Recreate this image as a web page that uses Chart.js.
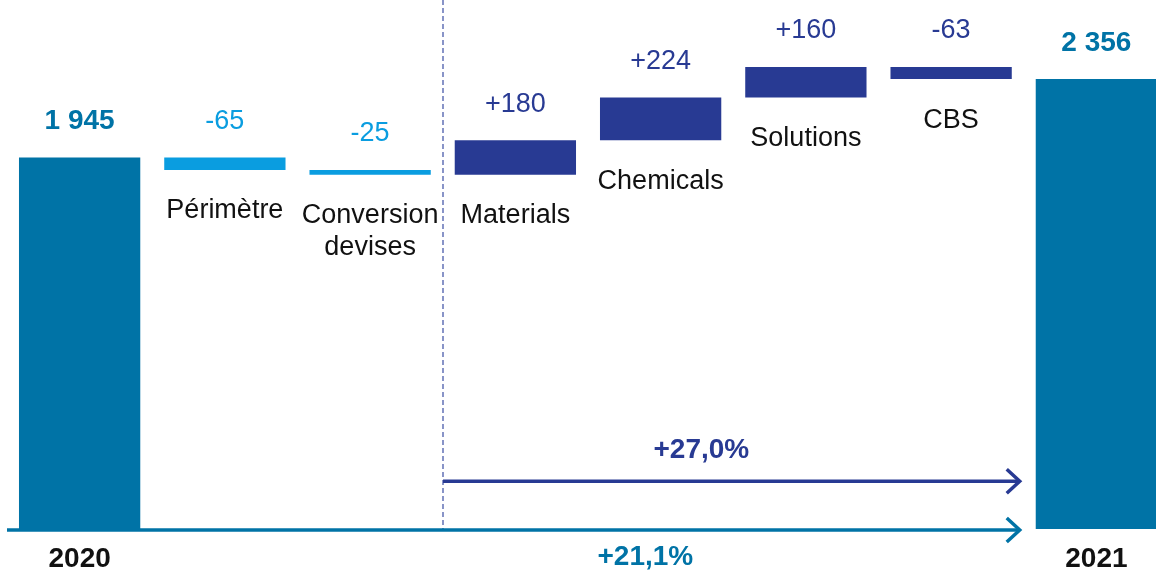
<!DOCTYPE html>
<html>
<head>
<meta charset="utf-8">
<script src="https://cdn.jsdelivr.net/npm/chart.js@4.4.1/dist/chart.umd.min.js"></script>
<style>
  html, body { margin: 0; padding: 0; background: #fff; overflow: hidden; }
  #wrap { width: 1170px; height: 573px; }
</style>
</head>
<body>
<div id="wrap"><canvas id="bridge" width="1170" height="573"></canvas></div>
<script>
// Waterfall data (EBITDA bridge 2020 -> 2021)
const categories = ['2020', 'Périmètre', 'Conversion\ndevises', 'Materials', 'Chemicals', 'Solutions', 'CBS', '2021'];
const values = [1945, -65, -25, 180, 224, 160, -63, 2356];
const valueLabels = ['1 945', '-65', '-25', '+180', '+224', '+160', '-63', '2 356'];
const kinds = ['total', 'scope', 'scope', 'organic', 'organic', 'organic', 'organic', 'total'];
const growthLabels = ['+27,0%', '+21,1%'];

const COLORS = { total: '#0073a6', scope: '#0a9de0', organic: '#283a93' };
const FONT = '"Liberation Sans", Arial, sans-serif';

// build floating bars [start, end]
function buildRanges() {
    let running = 0;
    return values.map((v, i) => {
        if (kinds[i] === 'total') {
            running = v;
            return [0, v];
        }
        const start = running;
        running += v;
        return [start, running];
    });
}

const bridgeLabels = {
    id: 'bridgeLabels',
    afterDatasetsDraw(chart) {
        const ctx = chart.ctx;
        const xs = chart.scales.x;
        const ys = chart.scales.y;
        const bars = chart.getDatasetMeta(0).data;
        const baseY = ys.getPixelForValue(0) + 1;

        ctx.save();
        ctx.textAlign = 'center';
        ctx.textBaseline = 'middle';

        bars.forEach((el, i) => {
            const top = Math.min(el.y, el.base);
            const bottom = Math.max(el.y, el.base);
            const isTotal = kinds[i] === 'total';

            // value above bar
            ctx.fillStyle = COLORS[kinds[i]];
            ctx.font = (isTotal ? 'bold 28px ' : '27px ') + FONT;
            ctx.fillText(valueLabels[i], el.x, top - 36);

            // category name
            ctx.fillStyle = '#111';
            if (isTotal) {
                ctx.font = 'bold 28px ' + FONT;
                ctx.fillText(categories[i], el.x, baseY + 29);
            } else {
                ctx.font = '27px ' + FONT;
                categories[i].split('\n').forEach((line, k) => {
                    ctx.fillText(line, el.x, bottom + 41 + k * 32);
                });
            }
        });

        // separator between scope effects and organic growth
        const splitX = Math.round((xs.getPixelForValue(2) + xs.getPixelForValue(3)) / 2);
        ctx.strokeStyle = '#3b4ea3';
        ctx.lineWidth = 1.2;
        ctx.setLineDash([5, 3]);
        ctx.beginPath();
        ctx.moveTo(splitX, chart.chartArea.top);
        ctx.lineTo(splitX, baseY);
        ctx.stroke();
        ctx.setLineDash([]);

        const last = bars[bars.length - 1];
        const tipX = last.x - last.width / 2 - 16;

        function arrow(x0, y, color) {
            ctx.strokeStyle = color;
            ctx.lineWidth = 3.5;
            ctx.beginPath();
            ctx.moveTo(x0, y);
            ctx.lineTo(tipX, y);
            ctx.stroke();
            ctx.beginPath();
            ctx.moveTo(tipX - 13, y - 12);
            ctx.lineTo(tipX, y);
            ctx.lineTo(tipX - 13, y + 12);
            ctx.stroke();
        }

        // organic growth arrow
        const orgY = ys.getPixelForValue(250);
        arrow(splitX, orgY, COLORS.organic);
        ctx.fillStyle = COLORS.organic;
        ctx.font = 'bold 28px ' + FONT;
        ctx.fillText(growthLabels[0], (splitX + tipX) / 2 - 30, orgY - 31);

        // total growth arrow on the baseline
        arrow(chart.chartArea.left, baseY, COLORS.total);
        ctx.fillStyle = COLORS.total;
        ctx.fillText(growthLabels[1], (splitX + tipX) / 2 - 86, baseY + 27);

        ctx.restore();
    }
};

const ctx = document.getElementById('bridge').getContext('2d');
new Chart(ctx, {
    type: 'bar',
    data: {
        labels: categories,
        datasets: [{
            data: buildRanges(),
            backgroundColor: kinds.map(k => COLORS[k]),
            borderWidth: 0,
            borderSkipped: false,
            barPercentage: 0.835,
            categoryPercentage: 1.0
        }]
    },
    options: {
        responsive: false,
        animation: false,
        devicePixelRatio: 1,
        layout: { padding: { left: 7, right: 1, top: 0, bottom: 44 } },
        plugins: {
            legend: { display: false },
            tooltip: { enabled: false }
        },
        scales: {
            x: { display: false, offset: true, grid: { display: false } },
            y: { display: false, min: 0, max: 2770, grid: { display: false } }
        }
    },
    plugins: [bridgeLabels]
});
</script>
</body>
</html>
